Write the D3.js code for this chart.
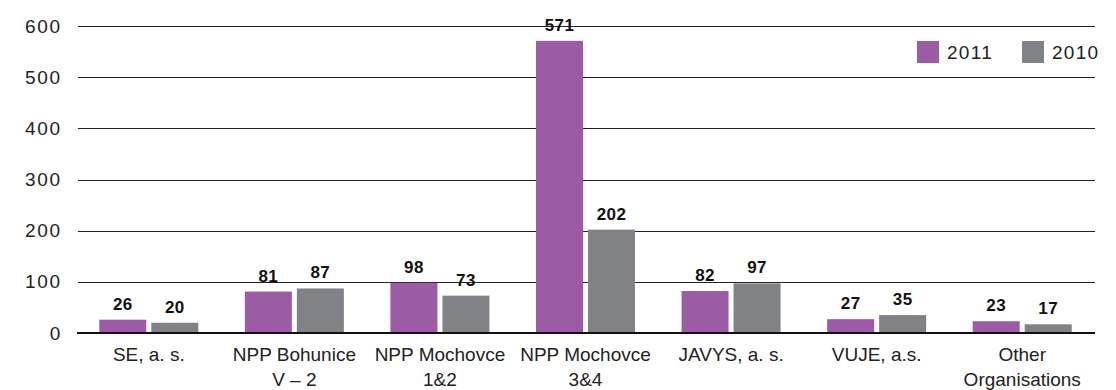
<!DOCTYPE html>
<html lang="en">
  <head>
    <meta charset="UTF-8" />
    <title>Bar chart 2011 vs 2010</title>
    <script src="https://d3js.org/d3.v7.min.js"></script>
    <style>
      body { margin: 0; background: #fff; }
      text { font-family: "Liberation Sans", Arial, sans-serif; }
    </style>
  </head>
  <body>
    <svg width="1116" height="390"></svg>
    <script>
      // data
      const categories = [
        ["SE, a. s."],
        ["NPP Bohunice", "V – 2"],
        ["NPP Mochovce", "1&2"],
        ["NPP Mochovce", "3&4"],
        ["JAVYS, a. s."],
        ["VUJE, a.s."],
        ["Other", "Organisations"],
      ];
      const series = ["2011", "2010"];
      const values2011 = [26, 81, 98, 571, 82, 27, 23];
      const values2010 = [20, 87, 73, 202, 97, 35, 17];
      const yTicks = [0, 100, 200, 300, 400, 500, 600];

      const colors = { "2011": "#9b5ba5", "2010": "#808285" };

      const svg = d3.select("svg");
      const x0 = 76, x1 = 1095;

      const x = d3.scaleBand()
        .domain(d3.range(categories.length))
        .range([x0, x1])
        .paddingInner(0)
        .paddingOuter(0);

      const y = d3.scaleLinear().domain([0, 600]).range([333, 26]);

      const barW = 47, gap = 5;
      const xs = d3.scaleOrdinal().domain(series)
        .range([-(barW + gap / 2), gap / 2]);

      // gridlines
      svg.append("g")
        .selectAll("line")
        .data(yTicks.filter(d => d > 0))
        .enter()
        .append("line")
        .attr("x1", x0 + 2)
        .attr("x2", x1)
        .attr("y1", d => Math.round(y(d)) + 0.5)
        .attr("y2", d => Math.round(y(d)) + 0.5)
        .attr("stroke", "#222")
        .attr("stroke-width", 1);

      // y labels
      svg.append("g")
        .selectAll("text")
        .data(yTicks)
        .enter()
        .append("text")
        .attr("x", 62)
        .attr("y", d => y(d) + 6.5)
        .attr("text-anchor", "end")
        .attr("font-size", 19)
        .attr("letter-spacing", 1.8)
        .attr("fill", "#222")
        .text(d => d);

      // bars
      const rows = [];
      categories.forEach((c, i) => {
        rows.push({ i, s: "2011", v: values2011[i] });
        rows.push({ i, s: "2010", v: values2010[i] });
      });

      svg.append("g")
        .selectAll("rect")
        .data(rows)
        .enter()
        .append("rect")
        .attr("x", d => x(d.i) + x.bandwidth() / 2 + xs(d.s))
        .attr("width", barW)
        .attr("y", d => y(d.v))
        .attr("height", d => y(0) - y(d.v))
        .attr("fill", d => colors[d.s]);

      // value labels
      svg.append("g")
        .selectAll("text")
        .data(rows)
        .enter()
        .append("text")
        .attr("x", d => x(d.i) + x.bandwidth() / 2 + xs(d.s) + barW / 2)
        .attr("y", d => y(d.v) - 10)
        .attr("text-anchor", "middle")
        .attr("font-size", 17)
        .attr("font-weight", "bold")
        .attr("letter-spacing", 0.4)
        .attr("fill", "#111")
        .text(d => d.v);

      // baseline
      svg.append("line")
        .attr("x1", x0 + 1)
        .attr("x2", x1)
        .attr("y1", y(0))
        .attr("y2", y(0))
        .attr("stroke", "#111")
        .attr("stroke-width", 2);

      // category labels
      const cat = svg.append("g")
        .selectAll("text")
        .data(categories)
        .enter()
        .append("text")
        .attr("text-anchor", "middle")
        .attr("font-size", 19)
        .attr("fill", "#222")
        .attr("transform", (d, i) => `translate(${x(i) + x.bandwidth() / 2},361)`);
      cat.selectAll("tspan")
        .data(d => d)
        .enter()
        .append("tspan")
        .attr("x", 0)
        .attr("dy", (d, j) => (j === 0 ? 0 : 25))
        .text(d => d);

      // legend
      const legend = svg.append("g")
        .selectAll("g")
        .data(series)
        .enter()
        .append("g")
        .attr("transform", (d, i) => `translate(${917 + i * 105},41)`);
      legend.append("rect")
        .attr("width", 22)
        .attr("height", 22)
        .attr("fill", d => colors[d]);
      legend.append("text")
        .attr("x", 30)
        .attr("y", 18)
        .attr("font-size", 19)
        .attr("letter-spacing", 1.3)
        .attr("fill", "#222")
        .text(d => d);
    </script>
  </body>
</html>
